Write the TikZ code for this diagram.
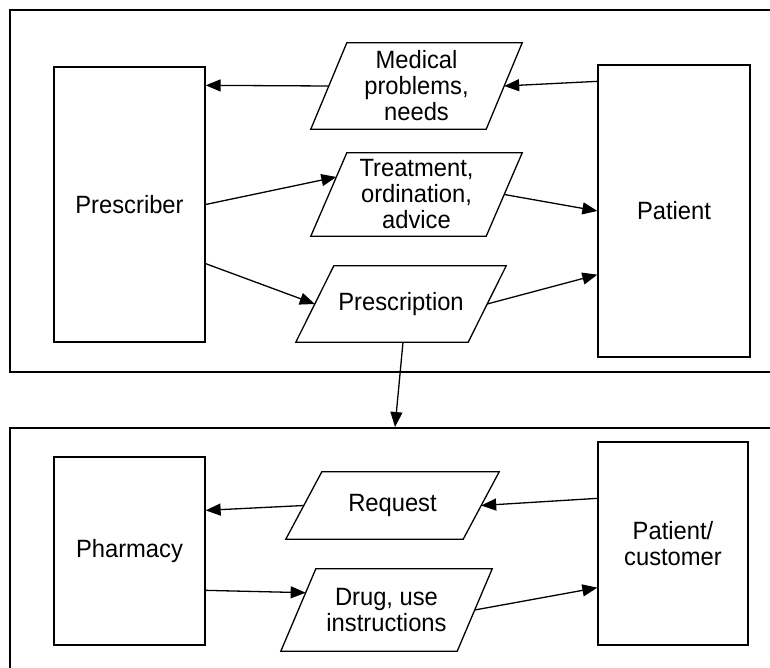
\documentclass[tikz,border=0pt]{standalone}
\usepackage{fontspec}
\setmainfont[FakeStretch=0.95]{Liberation Sans}
\usetikzlibrary{arrows.meta,calc}
\newcommand\mypara[7]{%
  \node[ptext, minimum width=#4pt, minimum height=#5pt] (#1) at (#2,#3) {#7};
  \coordinate (#1-tl) at ([xshift=#6pt]#1.north west);
  \coordinate (#1-tr) at (#1.north east);
  \coordinate (#1-br) at ([xshift=-#6pt]#1.south east);
  \coordinate (#1-bl) at (#1.south west);
  \draw[boxline] (#1-tl) -- (#1-tr) -- (#1-br) -- (#1-bl) -- cycle;
  \coordinate (#1-l) at ($(#1-tl)!0.5!(#1-bl)$);
  \coordinate (#1-r) at ($(#1-tr)!0.5!(#1-br)$);
}
\tikzset{
  txt/.style={font=\fontsize{25}{26}\selectfont, align=center},
  ptext/.style={txt, inner sep=0pt},
  boxline/.style={draw=black, line width=1.3pt, line join=miter},
  actor/.style={txt, boxline, inner sep=0pt},
  frame/.style={draw=black, line width=1.8pt, inner sep=0pt},
  arr/.style={draw=black, line width=1.3pt, -{Triangle[length=15pt,width=12pt]}}
}
\begin{document}
\begin{tikzpicture}[x=1pt,y=-1pt]
\useasboundingbox (0,0) rectangle (770,668);
\clip (0,0) rectangle (770,668);
\fill[white] (0,0) rectangle (770,668);

% frames
\node[frame, minimum width=776pt, minimum height=362pt, anchor=north west] (frame1) at (9,9) {};
\node[frame, minimum width=776pt, minimum height=260pt, anchor=north west] (frame2) at (9,427) {};

% actors
\node[actor, minimum width=151pt, minimum height=275pt] (pres) at (129.5,204.5) {Prescriber};
\node[actor, minimum width=152pt, minimum height=292pt] (pat) at (674,211) {Patient};
\node[actor, minimum width=151pt, minimum height=188pt] (ph) at (129.5,551) {Pharmacy};
\node[actor, minimum width=150pt, minimum height=203pt] (pc) at (673,543.5) {Patient/\\customer};

% data parallelograms
\mypara{med}{416.5}{86}{211}{86}{36}{Medical\\problems,\\needs}
\mypara{treat}{416.5}{194.5}{211}{83}{36}{Treatment,\\ordination,\\advice}
\mypara{presc}{401}{304}{210}{76}{38}{Prescription}
\mypara{req}{392.5}{505.5}{213}{67}{36}{Request}
\mypara{drug}{386.5}{610}{211}{82}{35}{Drug, use\\instructions}

% connectors (top)
\draw[arr] (med-l) -- ([yshift=-19pt]pres.north east);
\draw[arr] ([yshift=-17pt]pat.north west) -- (med-r);
\draw[arr] (pres.east) -- ($(treat-tl)!0.29!(treat-bl)$);
\draw[arr] (treat-r) -- (pat.west);
\draw[arr] ([yshift=79pt]pres.south east) -- (presc-l);
\draw[arr] (presc-r) -- ([yshift=83pt]pat.south west);
\draw[arr] ([xshift=2pt]presc.south) -- ([xshift=-6pt]presc.south |- frame2.north);

% connectors (bottom)
\draw[arr] ([yshift=-57pt]pc.north west) -- (req-r);
\draw[arr] (req-l) -- ([yshift=-54pt]ph.north east);
\draw[arr] ([yshift=-134pt]ph.north east) -- ($(drug-tl)!0.29!(drug-bl)$);
\draw[arr] (drug-r) -- ([yshift=58pt]pc.south west);
\end{tikzpicture}
\end{document}
